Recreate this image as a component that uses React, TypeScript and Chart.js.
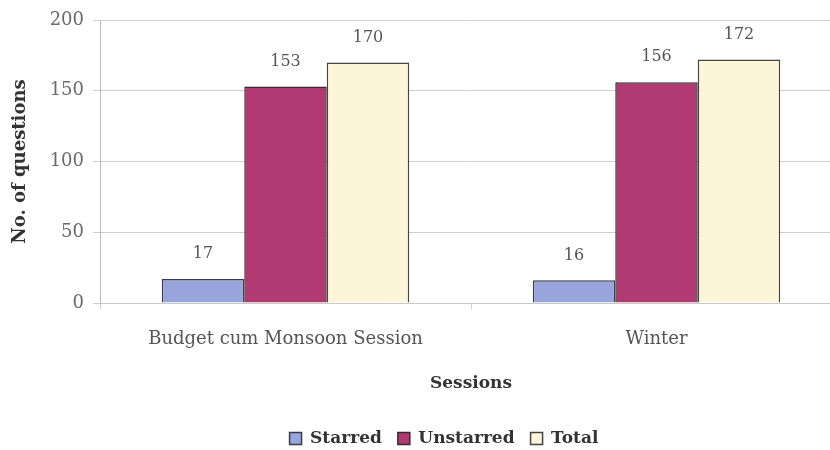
import React, { useEffect, useRef } from "react";
import { Chart, registerables } from "chart.js";

Chart.register(...registerables);

const categories = ["Budget cum Monsoon Session", "Winter"];
const starred = [17, 16];
const unstarred = [153, 156];
const total = [170, 172];
const yTicks = [0, 50, 100, 150, 200];

const SERIF = "'DejaVu Serif', 'Liberation Serif', serif";

const valueLabels = {
  id: "valueLabels",
  afterDatasetsDraw(chart: any) {
    const ctx = chart.ctx;
    ctx.save();
    ctx.font = `16px ${SERIF}`;
    ctx.fillStyle = "#555555";
    ctx.textAlign = "center";
    ctx.textBaseline = "bottom";
    chart.data.datasets.forEach((ds: any, i: number) => {
      const meta = chart.getDatasetMeta(i);
      meta.data.forEach((bar: any, j: number) => {
        ctx.fillText(String(ds.data[j]), bar.x, bar.y - 17);
      });
    });
    ctx.restore();
  },
};

const legendShift = {
  id: "legendShift",
  afterLayout(chart: any) {
    const lg = chart.legend;
    if (lg) {
      lg.left += 23;
      lg.right += 23;
      if (lg.legendHitBoxes) lg.legendHitBoxes.forEach((h: any) => { h.left += 23; });
    }
  },
};

const CANVAS_H = 457;

export default function App() {
  const ref = useRef<HTMLCanvasElement>(null);
  useEffect(() => {
    document.body.style.margin = "0";
    document.body.style.overflow = "hidden";
    const chart = new Chart(ref.current as HTMLCanvasElement, {
      type: "bar",
      data: {
        labels: categories,
        datasets: [
          { label: "Starred", data: starred, backgroundColor: "#98a5dc", borderColor: "#3a3a4a", borderWidth: 1.5 },
          { label: "Unstarred", data: unstarred, backgroundColor: "#b23a72", borderColor: "#3a2a30", borderWidth: 1.5 },
          { label: "Total", data: total, backgroundColor: "#fcf5d8", borderColor: "#444444", borderWidth: 1.5 },
        ],
      },
      options: {
        animation: false,
        responsive: false,
        layout: { padding: { top: 20, bottom: 0, left: 0, right: 8 } },
        datasets: { bar: { categoryPercentage: 0.667, barPercentage: 1 } },
        scales: {
          x: {
            afterFit: (s: any) => { s.height = 111; },
            grid: { drawOnChartArea: false, offset: true, color: "#d0d0d0", tickLength: 6 },
            border: { color: "#c8c8c8" },
            ticks: { color: "#555555", font: { family: SERIF, size: 18 }, padding: 20 },
            title: { display: true, text: "Sessions", color: "#333333", font: { family: SERIF, size: 17, weight: "bold" }, padding: { bottom: 20 } },
          },
          y: {
            min: 0,
            max: 200,
            afterFit: (s: any) => { s.width = 100; },
            afterBuildTicks: (s: any) => { s.ticks = yTicks.map((v) => ({ value: v })); },
            grid: { color: "#cfcfcf", tickLength: 7 },
            border: { color: "#bcbcbc" },
            ticks: { color: "#6a6a6a", font: { family: SERIF, size: 18 }, padding: 9 },
            title: { display: true, text: "No. of questions", color: "#333333", font: { family: SERIF, size: 18, weight: "bold" }, padding: { top: 10 } },
          },
        },
        plugins: {
          legend: {
            position: "bottom",
            labels: {
              color: "#333333",
              font: { family: SERIF, size: 17, weight: "bold" },
              boxWidth: 12,
              boxHeight: 12,
              padding: 16,
            },
          },
          tooltip: { enabled: false },
        },
      },
      plugins: [valueLabels, legendShift],
    } as any);
    return () => chart.destroy();
  }, []);
  return (
    <div style={{ position: "absolute", left: 0, top: 0, width: 850, height: CANVAS_H }}>
      <canvas ref={ref} width={850} height={CANVAS_H} style={{ width: 850, height: CANVAS_H, display: "block" }} />
    </div>
  );
}
